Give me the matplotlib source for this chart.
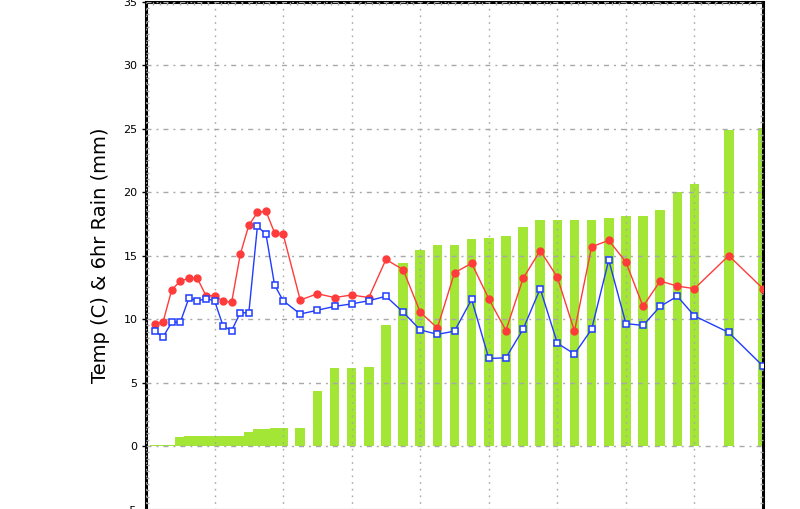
import matplotlib
matplotlib.use("Agg")
import matplotlib.pyplot as plt
from matplotlib.ticker import MultipleLocator, NullFormatter

# time in days from start of run
days = [0.125, 0.25, 0.375, 0.5, 0.625, 0.75, 0.875, 1.0,
        1.125, 1.25, 1.375, 1.5, 1.625, 1.75, 1.875, 2.0,
        2.25, 2.5, 2.75, 3.0, 3.25, 3.5, 3.75, 4.0,
        4.25, 4.5, 4.75, 5.0, 5.25, 5.5, 5.75, 6.0,
        6.25, 6.5, 6.75, 7.0, 7.25, 7.5, 7.75, 8.0,
        8.5, 9.0]

# 2m temperature (red) and dewpoint (blue), deg C
temp = [9.6, 9.8, 12.3, 13.0, 13.2, 13.2, 11.85, 11.85,
        11.4, 11.35, 15.1, 17.4, 18.4, 18.5, 16.8, 16.7,
        11.5, 12.0, 11.7, 11.9, 11.7, 14.7, 13.9, 10.55,
        9.3, 13.65, 14.4, 11.6, 9.1, 13.2, 15.4, 13.3,
        9.05, 15.7, 16.2, 14.5, 11.0, 13.0, 12.6, 12.4,
        15.0, 12.4]
dewp = [9.05, 8.6, 9.75, 9.75, 11.65, 11.45, 11.6, 11.45,
        9.45, 9.1, 10.5, 10.5, 17.3, 16.7, 12.7, 11.45,
        10.4, 10.7, 11.0, 11.2, 11.45, 11.8, 10.55, 9.15,
        8.8, 9.05, 11.55, 6.9, 6.95, 9.2, 12.4, 8.1,
        7.25, 9.2, 14.65, 9.65, 9.5, 11.0, 11.8, 10.25,
        8.95, 6.3]

# accumulated rain, mm
rain = [0.1, 0.1, 0.1, 0.7, 0.8, 0.8, 0.8, 0.8,
        0.8, 0.8, 0.8, 1.1, 1.35, 1.35, 1.4, 1.4,
        1.4, 4.35, 6.15, 6.15, 6.2, 9.5, 14.4, 15.45,
        15.85, 15.85, 16.3, 16.4, 16.55, 17.25, 17.8, 17.8,
        17.8, 17.8, 17.95, 18.1, 18.1, 18.6, 20.0, 20.65,
        24.9, 25.05]

plt.rcParams['lines.scale_dashes'] = False

fig = plt.figure(figsize=(8, 5.09), dpi=100)
ax = fig.add_axes([146 / 800, -0.001, 617 / 800, 0.9975])

ax.bar(days, rain, width=0.14, color='#a3e635', zorder=1)
ax.plot(days, temp, color='#ff3b3b', lw=1, marker='o', ms=5,
        mfc='#ff3b3b', mec='#ff3b3b', zorder=4)
ax.plot(days, dewp, color='#1f3cff', lw=1, marker='s', ms=5,
        mfc='white', mec='#1f3cff', mew=1.1, zorder=4)

ax.set_xlim(0, 9)
ax.set_ylim(-5, 35)
ax.set_axisbelow(False)

ax.yaxis.set_major_locator(MultipleLocator(5))
ax.yaxis.set_minor_locator(MultipleLocator(0.5))
ax.xaxis.set_major_locator(MultipleLocator(1))
ax.xaxis.set_minor_locator(MultipleLocator(0.1))
ax.xaxis.set_major_formatter(NullFormatter())

ax.grid(True, axis='y', color='#a8a8a8', lw=1, dashes=(3.6, 3.6, 1.4, 3.6), zorder=2)
ax.grid(True, axis='x', color='#a8a8a8', lw=1, dashes=(1.2, 3.6), zorder=2)

for side in ['left', 'right', 'top', 'bottom']:
    ax.spines[side].set_linewidth(2.2)
    ax.spines[side].set_color('black')

ax.tick_params(axis='y', which='major', direction='out', length=3, width=1,
               labelsize=8, pad=3, right=False)
ax.tick_params(axis='y', which='minor', direction='in', length=2, width=1,
               color='#a8a8a8', left=True, right=True)
ax.tick_params(axis='x', which='major', length=0)
ax.tick_params(axis='x', which='minor', direction='in', length=2, width=1,
               color='#a8a8a8', top=True, bottom=False)

ax.set_ylabel('Temp (C) & 6hr Rain (mm)', fontsize=14, labelpad=8)

fig.savefig('out.png', dpi=100)
